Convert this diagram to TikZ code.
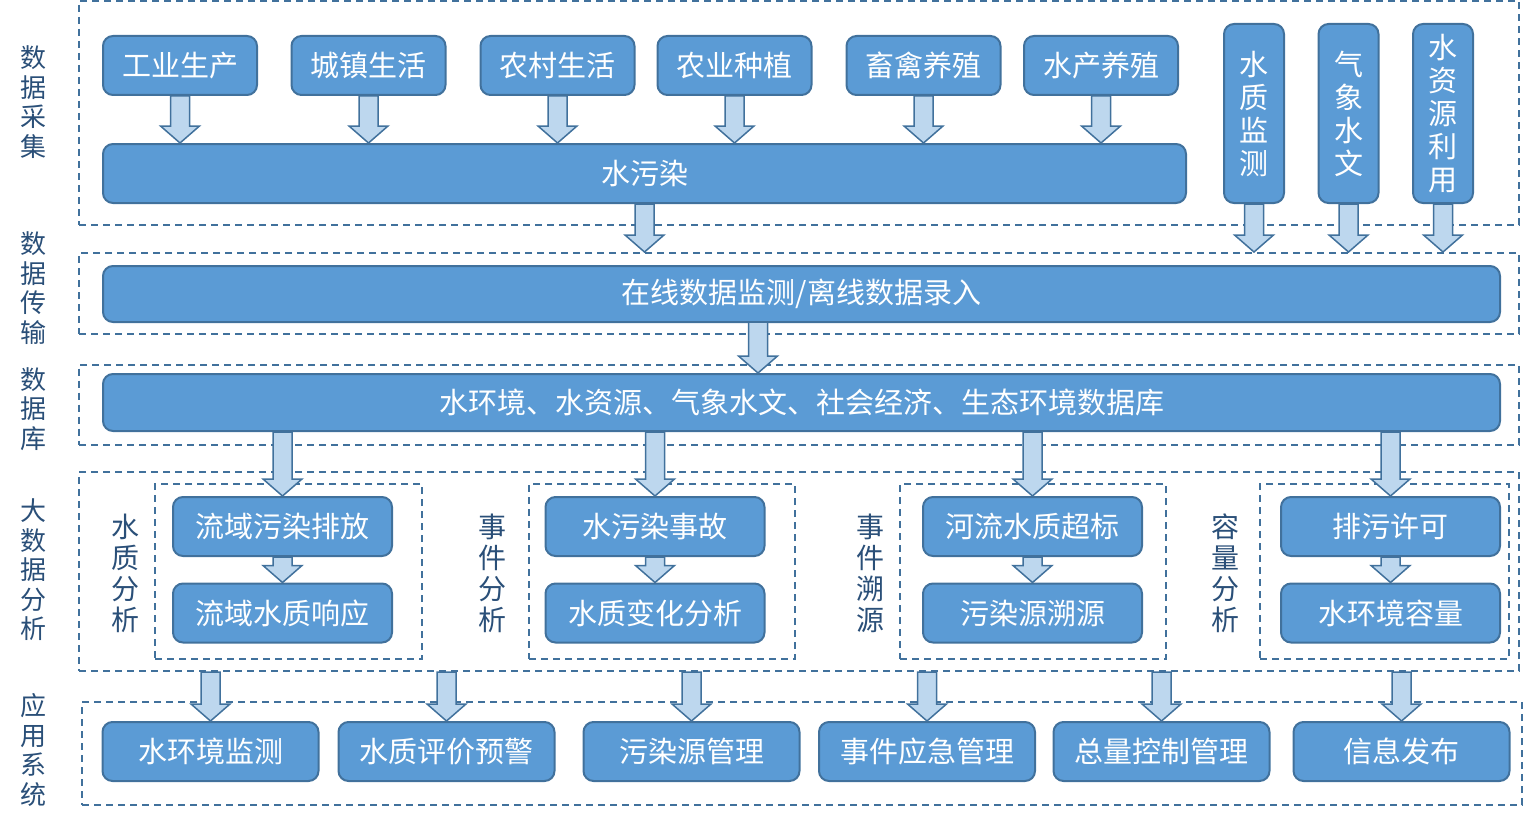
\documentclass[tikz,border=0pt]{standalone}
\usepackage{fontspec}
\setmainfont{Noto Sans CJK SC}
\usetikzlibrary{calc}
\definecolor{boxfill}{HTML}{5B9BD5}
\definecolor{boxline}{HTML}{41719C}
\definecolor{arrfill}{HTML}{BDD7EE}
\definecolor{labtext}{HTML}{2A4F78}
% fat block arrow pointing down, from #1 to #2 (same x)
\newcommand{\fatdown}[2]{%
  \draw[fatarrow] let \p1=(#1), \p2=(#2) in
    (\x1-4.75pt,\y1) -- (\x1+4.75pt,\y1) -- (\x1+4.75pt,\y2+8.5pt)
    -- (\x1+9.75pt,\y2+8.5pt) -- (\x1,\y2) -- (\x1-9.75pt,\y2+8.5pt)
    -- (\x1-4.75pt,\y2+8.5pt) -- cycle;}
\begin{document}
\begin{tikzpicture}[x=0.5pt,y=-0.5pt,
  databox/.style={draw=boxline, line width=1pt, fill=boxfill, rounded corners=5pt,
    text=white, font=\fontsize{14.5}{16.5}\selectfont, inner sep=0pt,
    minimum height=29.5pt},
  rowbox/.style={databox, minimum width=77pt},
  tallbox/.style={databox, minimum width=30pt, minimum height=89.5pt, align=center},
  anabox/.style={databox, minimum width=109.5pt},
  appbox/.style={databox, minimum width=108pt},
  dashframe/.style={draw=boxline, line width=1pt, dash pattern=on 3.5pt off 2.5pt,
    inner sep=0pt},
  sidelab/.style={text=labtext, align=center, font=\fontsize{13}{14.75}\selectfont},
  innerlab/.style={text=labtext, align=center, font=\fontsize{14}{15.5}\selectfont},
  fatarrow/.style={draw=boxline, line width=0.75pt, fill=arrfill, line join=miter}]
\useasboundingbox (0,0) rectangle (1524,824);

% layer frames
\node[dashframe, minimum width=720pt, minimum height=112pt] (fcj) at (799,113) {};
\node[dashframe, minimum width=720pt, minimum height=40.5pt] (fcs) at (799,293.5) {};
\node[dashframe, minimum width=720pt, minimum height=40pt] (fk) at (799,404.5) {};
\node[dashframe, minimum width=720pt, minimum height=99.5pt] (ffx) at (799,571.5) {};
\node[dashframe, minimum width=720pt, minimum height=51.5pt] (fyy) at (802,753.5) {};

% layer names
\node[sidelab] (lcj) at (33,102) {数\\据\\采\\集};
\node[sidelab] (lcs) at (33,288) {数\\据\\传\\输};
\node[sidelab] (lk) at (33,409) {数\\据\\库};
\node[sidelab] (lfx) at (33,570) {大\\数\\据\\分\\析};
\node[sidelab] (lyy) at (33,750) {应\\用\\系\\统};

% data collection
\node[rowbox] (gy) at (180,65.5) {工业生产};
\node[rowbox] (cz) at (368.5,65.5) {城镇生活};
\node[rowbox] (nc) at (557.5,65.5) {农村生活};
\node[rowbox] (ny) at (734.5,65.5) {农业种植};
\node[rowbox] (xq) at (923.5,65.5) {畜禽养殖};
\node[rowbox] (sc) at (1101,65.5) {水产养殖};
\node[databox, minimum width=541.5pt] (wr) at (644.5,173.5) {水污染};
\node[tallbox] (szjc) at (1254,113.5) {水\\质\\监\\测};
\node[tallbox] (qxsw) at (1348.5,113.5) {气\\象\\水\\文};
\node[tallbox] (szly) at (1443,113.5) {水\\资\\源\\利\\用};

% transfer and database
\node[databox, minimum width=698.5pt, minimum height=28pt] (zx) at (801.5,294)
  {在线数据监测/离线数据录入};
\node[databox, minimum width=698.5pt, minimum height=28.5pt] (sjk) at (801.5,402.5)
  {水环境、水资源、气象水文、社会经济、生态环境数据库};
\coordinate (zxout) at (758,322);

% analysis
\node[dashframe, minimum width=133.5pt, minimum height=87.5pt] (fa1) at (288.5,571.5) {};
\node[dashframe, minimum width=133pt, minimum height=87.5pt] (fa2) at (662,571.5) {};
\node[dashframe, minimum width=133pt, minimum height=87.5pt] (fa3) at (1033,571.5) {};
\node[dashframe, minimum width=124.5pt, minimum height=87.5pt] (fa4) at (1384.5,571.5) {};
\node[innerlab] (la1) at (125,573) {水\\质\\分\\析};
\node[innerlab] (la2) at (492,573) {事\\件\\分\\析};
\node[innerlab] (la3) at (870,573) {事\\件\\溯\\源};
\node[innerlab] (la4) at (1225,573) {容\\量\\分\\析};
\node[anabox] (lywr) at (282.5,526.5) {流域污染排放};
\node[anabox] (lyxy) at (282.5,613) {流域水质响应};
\node[anabox] (swr) at (655,526.5) {水污染事故};
\node[anabox] (szbh) at (655,613) {水质变化分析};
\node[anabox] (hlcb) at (1032.5,526.5) {河流水质超标};
\node[anabox] (wry) at (1032.5,613) {污染源溯源};
\node[anabox] (pwxk) at (1390.5,526.5) {排污许可};
\node[anabox] (hjrl) at (1390.5,613) {水环境容量};

% applications
\node[appbox] (yy1) at (210.5,751.5) {水环境监测};
\node[appbox] (yy2) at (446.5,751.5) {水质评价预警};
\node[appbox] (yy3) at (691.5,751.5) {污染源管理};
\node[appbox] (yy4) at (927,751.5) {事件应急管理};
\node[appbox] (yy5) at (1161.5,751.5) {总量控制管理};
\node[appbox] (yy6) at (1401.5,751.5) {信息发布};

% arrows
\foreach \b in {gy,cz,nc,ny,xq,sc}
  \fatdown{\b.south}{\b.south |- wr.north};
\foreach \b in {wr,szjc,qxsw,szly}
  \fatdown{\b.south}{\b.south |- fcs.north};
\fatdown{zxout}{zxout |- sjk.north};
\foreach \b in {lywr,swr,hlcb,pwxk}
  \fatdown{sjk.south -| \b.north}{\b.north};
\fatdown{lywr.south}{lyxy.north};
\fatdown{swr.south}{szbh.north};
\fatdown{hlcb.south}{wry.north};
\fatdown{pwxk.south}{hjrl.north};
\foreach \b in {yy1,yy2,yy3,yy4,yy5,yy6}
  \fatdown{ffx.south -| \b.north}{\b.north};
\end{tikzpicture}
\end{document}
